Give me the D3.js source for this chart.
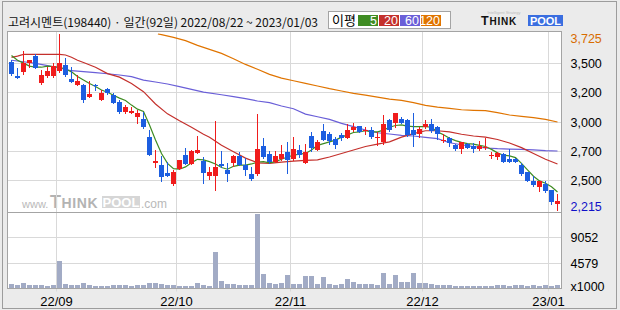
<!DOCTYPE html>
<html>
<head>
<meta charset="utf-8">
<script src="https://cdn.jsdelivr.net/npm/d3@7"></script>
<style>
  body { margin: 0; background: #ebebeb; }
  svg { display: block; }
  text { font-family: "Liberation Sans", Arial, sans-serif; }
  .kr { font-family: "Noto Sans CJK KR", "Noto Sans", sans-serif; }
</style>
</head>
<body>
<div id="chart"></div>
<script>
// 고려시멘트(198440) daily, 2022/08/22 ~ 2023/01/03 (92 sessions)
const title = '고려시멘트(198440) · 일간(92일) 2022/08/22 ~ 2023/01/03';

const opens = [3485, 3365, 3400, 3475, 3540, 3305, 3365, 3365, 3410, 3460, 3340, 3285, 3285, 3185, 3285, 3160, 3255, 3200, 3145, 3060,
  3045, 3015, 3000, 2845, 2620, 2600, 2535, 2440, 2565, 2685, 2610, 2705, 2635, 2510, 2510, 2610, 2560, 2620, 2680, 2600,
  2525, 2525, 2765, 2695, 2630, 2650, 2715, 2650, 2730, 2620, 2850, 2730, 2895, 2865, 2825, 2860, 2835, 2905, 2935, 2895,
  2900, 2835, 2795, 2985, 2965, 2995, 2990, 2900, 2865, 2930, 2955, 2925, 2805, 2830, 2775, 2740, 2780, 2765, 2735, 2745,
  2685, 2670, 2695, 2650, 2650, 2605, 2540, 2460, 2410, 2440, 2385, 2265];
const highs = [3505, 3430, 3580, 3500, 3555, 3415, 3440, 3475, 3725, 3515, 3445, 3375, 3300, 3325, 3300, 3245, 3265, 3215, 3155, 3115,
  3095, 3075, 3060, 2900, 2730, 2680, 2630, 2560, 2645, 2745, 2730, 2850, 2670, 2585, 2980, 2725, 2620, 2685, 2715, 2660,
  2580, 3040, 2835, 2725, 2725, 2775, 2800, 2845, 2775, 2780, 2880, 2815, 2955, 2885, 2840, 2875, 2955, 2965, 2935, 2930,
  2930, 2885, 3030, 3000, 3045, 3010, 3000, 3045, 2930, 2985, 2995, 2935, 2865, 2840, 2785, 2800, 2790, 2790, 2805, 2830,
  2715, 2715, 2705, 2735, 2660, 2620, 2545, 2505, 2460, 2465, 2390, 2350];
const lows = [3375, 3345, 3380, 3440, 3430, 3295, 3360, 3355, 3400, 3365, 3315, 3285, 3145, 3185, 3245, 3160, 3210, 3130, 3050, 3050,
  3045, 2965, 2915, 2685, 2580, 2465, 2510, 2430, 2565, 2610, 2610, 2705, 2450, 2480, 2390, 2580, 2465, 2590, 2600, 2515,
  2470, 2515, 2665, 2620, 2630, 2645, 2535, 2645, 2670, 2620, 2725, 2730, 2815, 2780, 2750, 2815, 2830, 2895, 2880, 2865,
  2835, 2775, 2785, 2895, 2930, 2960, 2850, 2760, 2840, 2915, 2885, 2820, 2795, 2765, 2730, 2705, 2745, 2715, 2730, 2740,
  2665, 2650, 2630, 2630, 2630, 2515, 2460, 2425, 2380, 2370, 2265, 2215];
const closes = [3380, 3345, 3475, 3500, 3435, 3375, 3410, 3450, 3475, 3375, 3315, 3325, 3160, 3210, 3275, 3220, 3215, 3135, 3060, 3095,
  3065, 3045, 2930, 2690, 2635, 2500, 2510, 2545, 2645, 2610, 2720, 2730, 2535, 2545, 2585, 2590, 2525, 2680, 2605, 2560,
  2480, 2740, 2670, 2630, 2680, 2695, 2645, 2740, 2690, 2710, 2750, 2795, 2815, 2805, 2775, 2830, 2900, 2925, 2885, 2905,
  2840, 2845, 2950, 2900, 3045, 2965, 2860, 2860, 2910, 2955, 2895, 2865, 2815, 2790, 2740, 2795, 2750, 2740, 2765, 2755,
  2690, 2705, 2630, 2630, 2630, 2525, 2465, 2430, 2460, 2380, 2280, 2290];
// volume, x1000 shares
const volumes = [870, 690, 1050, 690, 690, 690, 520, 690, 4940, 870, 690, 690, 1050, 690, 520, 520, 520, 690, 690, 690,
  520, 690, 690, 1050, 1050, 870, 690, 690, 520, 520, 520, 1050, 690, 520, 6470, 1400, 870, 870, 690, 690,
  690, 13240, 2640, 1050, 870, 1050, 2460, 870, 870, 2230, 2290, 870, 2110, 870, 690, 870, 1760, 1230, 870, 870,
  870, 690, 2870, 870, 2460, 1230, 1230, 2870, 1050, 1050, 870, 690, 690, 690, 520, 520, 520, 520, 520, 520,
  520, 690, 690, 520, 690, 690, 520, 690, 520, 690, 520, 690];

// moving averages: [session index, value]
const ma5 = [[0, 3540], [1, 3500], [2, 3475], [3, 3450], [4, 3440], [5, 3440], [6, 3450], [7, 3445], [8, 3440], [9, 3425],
  [10, 3400], [11, 3360], [12, 3330], [13, 3300], [14, 3275], [15, 3245], [16, 3225], [17, 3200], [18, 3175], [19, 3155],
  [20, 3115], [21, 3080], [22, 3060], [23, 2945], [24, 2815], [25, 2700], [26, 2615], [27, 2570], [28, 2565], [29, 2585],
  [30, 2620], [31, 2650], [32, 2645], [33, 2630], [34, 2610], [35, 2580], [36, 2565], [37, 2590], [38, 2600], [39, 2600],
  [40, 2610], [41, 2625], [42, 2630], [43, 2620], [44, 2630], [45, 2650], [46, 2670], [47, 2685], [48, 2695], [49, 2700],
  [50, 2730], [51, 2770], [52, 2785], [53, 2800], [54, 2815], [55, 2840], [56, 2860], [57, 2880], [58, 2885], [59, 2895],
  [60, 2885], [61, 2885], [62, 2900], [63, 2925], [64, 2940], [65, 2945], [66, 2935], [67, 2930], [68, 2930], [69, 2930],
  [70, 2925], [71, 2885], [72, 2860], [73, 2830], [74, 2810], [75, 2795], [76, 2785], [77, 2780], [78, 2770], [79, 2760],
  [80, 2735], [81, 2705], [82, 2685], [83, 2680], [84, 2665], [85, 2615], [86, 2560], [87, 2505], [88, 2465], [89, 2445],
  [90, 2415], [91, 2370]];
const ma20 = [[0, 3525], [1, 3535], [2, 3550], [4, 3550], [6, 3550], [8, 3550], [9, 3545], [10, 3525], [11, 3500], [12, 3480],
  [14, 3440], [16, 3385], [18, 3355], [20, 3300], [22, 3230], [24, 3125], [26, 3040], [28, 2980], [30, 2925], [32, 2865],
  [33, 2840], [35, 2770], [37, 2715], [39, 2660], [41, 2620], [43, 2615], [45, 2625], [47, 2635], [49, 2640], [51, 2645],
  [53, 2670], [55, 2700], [57, 2730], [59, 2760], [61, 2780], [63, 2800], [65, 2840], [67, 2870], [69, 2895], [71, 2895],
  [73, 2885], [75, 2865], [77, 2850], [79, 2840], [81, 2820], [83, 2790], [85, 2750], [87, 2700], [89, 2650], [91, 2610]];
const ma60 = [[0, 3500], [2, 3487], [4, 3473], [6, 3453], [8, 3433], [10, 3410], [12, 3402], [14, 3393], [16, 3384], [18, 3373],
  [20, 3359], [22, 3330], [24, 3313], [26, 3296], [28, 3273], [30, 3250], [32, 3227], [35, 3204], [37, 3187], [39, 3170],
  [41, 3150], [43, 3136], [45, 3107], [47, 3084], [49, 3038], [51, 3015], [53, 2993], [55, 2958], [57, 2930], [59, 2901],
  [61, 2878], [63, 2867], [65, 2855], [67, 2850], [69, 2838], [71, 2827], [73, 2792], [75, 2775], [77, 2758], [79, 2747],
  [81, 2741], [83, 2738], [85, 2735], [87, 2730], [89, 2724], [91, 2721]];
const ma120 = [[24.4, 3725], [25, 3719], [27, 3696], [29, 3668], [31, 3627], [33, 3593], [35, 3559], [37, 3513], [39, 3464],
  [41, 3422], [43, 3379], [45, 3347], [47, 3324], [49, 3301], [51, 3279], [53, 3256], [55, 3236], [57, 3216], [59, 3201],
  [61, 3184], [63, 3167], [65, 3156], [67, 3136], [69, 3113], [71, 3098], [73, 3087], [75, 3075], [77, 3070], [79, 3067],
  [81, 3050], [83, 3030], [85, 3018], [87, 3007], [89, 2993], [91, 2970]];

// axis texts
const monthTickIndex = [8, 28, 47, 69, 90];
const monthTickLabels = ['22/09', '22/10', '22/11', '22/12', '23/01'];
const priceTickLabels = ['3,500', '3,200', '3,000', '2,700', '2,500'];
const volTicks = [4579, 9052];
const legendNames = ['5', '20', '60', '120'];
const legendColors = ['#3f8c23', '#c4302c', '#6a5fd8', '#e07400'];

const width = 620;
const height = 310;
const plot = { left: 7.5, right: 561.5, top: 31.5, mid: 212.5, bottom: 288.5 };
const upColor = '#f01c1c';
const downColor = '#1c5ee0';
const gridColor = '#d9d9d9';

const svg = d3.select('#chart').append('svg')
  .attr('width', width)
  .attr('height', height);

// frame and panels
svg.append('rect')
  .attr('x', 2.5).attr('y', 1.5)
  .attr('width', 614).attr('height', 307)
  .attr('fill', '#ebebeb')
  .attr('stroke', '#9c9c9c');
svg.append('rect')
  .attr('x', plot.left).attr('y', plot.top)
  .attr('width', plot.right - plot.left).attr('height', plot.bottom - plot.top)
  .attr('fill', '#fff');

// scales
const x = d3.scaleLinear().domain([0, opens.length - 1]).range([11.5, 11.5 + 6 * (opens.length - 1)]);
const priceMin = d3.min(lows);
const priceMax = d3.max(highs);
const y = d3.scaleLinear().domain([priceMin, priceMax]).range([210, 34]);
const volStep = volTicks[1] - volTicks[0];
const yVol = d3.scaleLinear().domain([volTicks[0] - volStep, volTicks[1] + volStep]).range([288.5, 212.5]);
const crisp = v => Math.round(v - 0.5) + 0.5;

// watermark
const wm = svg.append('g').attr('class', 'watermark');
wm.append('text').attr('x', 22).attr('y', 208).attr('font-size', 11).attr('fill', '#b9b9b9').text('www.');
wm.append('text').attr('x', 50).attr('y', 208).attr('font-weight', 'bold').attr('fill', '#b3b3b3')
  .attr('font-family', 'DejaVu Sans')
  .attr('letter-spacing', 0.6)
  .call(t => {
    t.append('tspan').attr('font-size', 18).text('T');
    t.append('tspan').attr('font-size', 14).text('HINK');
  });
wm.append('rect').attr('x', 102).attr('y', 196).attr('width', 38).attr('height', 12).attr('fill', '#d6d6d6');
wm.append('text').attr('x', 121).attr('y', 207).attr('text-anchor', 'middle').attr('font-size', 13)
  .attr('font-weight', 'bold').attr('font-family', 'DejaVu Sans').attr('fill', '#fff').text('POOL');
wm.append('text').attr('x', 141).attr('y', 208).attr('font-size', 12).attr('fill', '#b9b9b9').text('.com');

// grid lines
const priceGrid = d3.range(1, 6).map(k => priceMax - k * (priceMax - priceMin) / 6);
svg.append('g').selectAll('line')
  .data(priceGrid)
  .enter().append('line')
  .attr('x1', plot.left).attr('x2', plot.right)
  .attr('y1', d => crisp(y(d))).attr('y2', d => crisp(y(d)))
  .attr('stroke', gridColor);
svg.append('g').selectAll('line')
  .data(volTicks)
  .enter().append('line')
  .attr('x1', plot.left).attr('x2', plot.right)
  .attr('y1', d => crisp(yVol(d))).attr('y2', d => crisp(yVol(d)))
  .attr('stroke', gridColor);
svg.append('g').selectAll('line')
  .data(monthTickIndex)
  .enter().append('line')
  .attr('x1', d => x(d) - 3).attr('x2', d => x(d) - 3)
  .attr('y1', plot.top).attr('y2', plot.bottom + 3)
  .attr('stroke', gridColor);

// volume bars
svg.append('g').selectAll('rect')
  .data(volumes)
  .enter().append('rect')
  .attr('x', (d, i) => x(i) - 2.5)
  .attr('width', 5)
  .attr('y', d => Math.round(yVol(d)))
  .attr('height', d => 288 - Math.round(yVol(d)))
  .attr('fill', '#a2abc5');

// moving averages
const line = d3.line().x(d => x(d[0])).y(d => y(d[1]));
[ma120, ma60, ma20, ma5].forEach((s, k) => {
  svg.append('path')
    .datum(s)
    .attr('d', line)
    .attr('fill', 'none')
    .attr('stroke', legendColors[3 - k])
    .attr('stroke-width', 1.2);
});

// candles
const candles = svg.append('g').selectAll('g')
  .data(opens.map((o, i) => ({ i: i, o: o, h: highs[i], l: lows[i], c: closes[i] })))
  .enter().append('g')
  .attr('fill', d => d.c >= d.o ? upColor : downColor)
  .attr('stroke', d => d.c >= d.o ? upColor : downColor);
candles.append('line')
  .attr('x1', d => x(d.i)).attr('x2', d => x(d.i))
  .attr('y1', d => Math.round(y(d.h))).attr('y2', d => Math.round(y(d.l)) + 1);
candles.append('rect')
  .attr('stroke', 'none')
  .attr('x', d => x(d.i) - 2.5)
  .attr('width', 5)
  .attr('y', d => Math.round(y(Math.max(d.o, d.c))))
  .attr('height', d => Math.max(1, Math.round(y(Math.min(d.o, d.c))) - Math.round(y(Math.max(d.o, d.c)))));

// panel borders
svg.append('rect')
  .attr('x', plot.left).attr('y', plot.top)
  .attr('width', plot.right - plot.left).attr('height', plot.bottom - plot.top)
  .attr('fill', 'none')
  .attr('stroke', '#a4a4a4');
svg.append('line')
  .attr('x1', plot.left).attr('x2', plot.right)
  .attr('y1', plot.mid).attr('y2', plot.mid)
  .attr('stroke', '#a4a4a4');

// right axis labels
const axisX = 570.5;
svg.append('g').selectAll('text')
  .data(priceGrid)
  .enter().append('text')
  .attr('x', axisX)
  .attr('y', d => y(d) + 4.5)
  .attr('font-size', 12.5)
  .text((d, i) => priceTickLabels[i]);
svg.append('text')
  .attr('x', axisX).attr('y', y(priceMax) + 8.5)
  .attr('font-size', 12.5).attr('fill', '#d86c00')
  .text(d3.format(',')(priceMax));
svg.append('text')
  .attr('x', axisX).attr('y', y(priceMin) + 1)
  .attr('font-size', 12.5).attr('fill', '#1010c8')
  .text(d3.format(',')(priceMin));
svg.append('g').selectAll('text')
  .data(volTicks)
  .enter().append('text')
  .attr('x', axisX)
  .attr('y', d => yVol(d) + 4.5)
  .attr('font-size', 12.5)
  .text(d => d);
svg.append('text')
  .attr('x', axisX).attr('y', 291)
  .attr('font-size', 12.5)
  .text('x1000');

// date labels
svg.append('g').selectAll('text')
  .data(monthTickIndex)
  .enter().append('text')
  .attr('x', d => x(d) - 3)
  .attr('y', 305.5)
  .attr('text-anchor', 'middle')
  .attr('font-size', 13)
  .text((d, i) => monthTickLabels[i]);

// title
svg.append('text')
  .attr('class', 'kr')
  .attr('x', 8).attr('y', 26.5)
  .attr('font-size', 12)
  .attr('fill', '#111')
  .text(title);

// legend
const legend = svg.append('g');
legend.append('rect')
  .attr('x', 328.5).attr('y', 11.5)
  .attr('width', 122).attr('height', 17)
  .attr('fill', '#fff')
  .attr('stroke', '#a4a4a4');
legend.append('text')
  .attr('class', 'kr')
  .attr('x', 332).attr('y', 25)
  .attr('font-size', 13)
  .text('이평');
const legendX = [358, 379, 400, 421];
legendNames.forEach((name, k) => {
  legend.append('rect')
    .attr('x', legendX[k]).attr('y', 15)
    .attr('width', 20).attr('height', 11)
    .attr('fill', legendColors[k]);
  legend.append('text')
    .attr('x', legendX[k] + 19).attr('y', 25)
    .attr('text-anchor', 'end')
    .attr('font-size', 12.5)
    .attr('fill', '#fff')
    .text(name);
});

// logo
const logo = svg.append('g');
logo.append('text')
  .attr('x', 504).attr('y', 14)
  .attr('text-anchor', 'middle')
  .attr('font-size', 4).attr('fill', '#bbb')
  .text('Intelligent Strategy');
logo.append('text')
  .attr('x', 481).attr('y', 25)
  .attr('font-family', 'DejaVu Sans')
  .attr('font-weight', 'bold')
  .attr('letter-spacing', 0.8)
  .attr('fill', '#111')
  .call(t => {
    t.append('tspan').attr('font-size', 12.5).text('T');
    t.append('tspan').attr('font-size', 10).text('HINK');
  });
logo.append('rect')
  .attr('x', 528).attr('y', 15)
  .attr('width', 35).attr('height', 11)
  .attr('fill', '#3a6ee0');
logo.append('text')
  .attr('x', 545.5).attr('y', 25)
  .attr('text-anchor', 'middle')
  .attr('font-family', 'DejaVu Sans')
  .attr('font-weight', 'bold')
  .attr('font-size', 11)
  .attr('fill', '#fff')
  .text('POOL');
</script>
</body>
</html>
